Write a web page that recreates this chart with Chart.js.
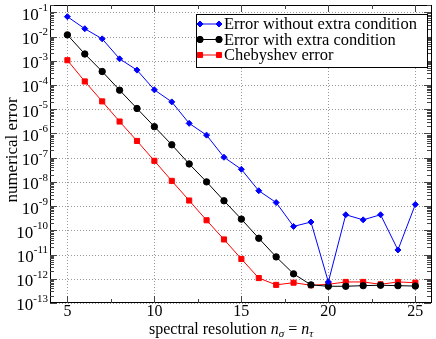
<!DOCTYPE html>
<html>
<head>
<meta charset="utf-8">
<script src="https://cdn.jsdelivr.net/npm/chart.js@4.4.0/dist/chart.umd.min.js"></script>
<style>
html, body { margin: 0; padding: 0; background: #fff; }
</style>
</head>
<body>
<canvas id="chart" width="436" height="339"></canvas>
<script>
var resolution = [5, 6, 7, 8, 9, 10, 11, 12, 13, 14, 15, 16, 17, 18, 19, 20, 21, 22, 23, 24, 25];
var errWithout = [6.6e-2, 2.1e-2, 8.0e-3, 1.2e-3, 4.1e-4, 6.3e-5, 2.0e-5, 2.6e-6, 8.5e-7, 1.04e-7, 3.3e-8,
                  4.3e-9, 1.4e-9, 1.45e-10, 2.2e-10, 7.4e-13, 4.4e-10, 2.7e-10, 4.4e-10, 1.55e-11, 1.17e-9];
var errWith = [1.17e-2, 1.9e-3, 3.6e-4, 6.1e-5, 1.07e-5, 1.9e-6, 3.4e-7, 5.5e-8, 1.0e-8, 1.66e-9, 2.9e-10,
               4.7e-11, 8.0e-12, 1.6e-12, 5.6e-13, 4.9e-13, 4.9e-13, 5.2e-13, 5.4e-13, 5.2e-13, 5.0e-13];
var errCheb = [1.05e-3, 1.4e-4, 2.1e-5, 3.1e-6, 4.9e-7, 7.4e-8, 1.1e-8, 1.7e-9, 2.6e-10, 4.2e-11, 6.6e-12,
               1.07e-12, 5.6e-13, 6.9e-13, 5.4e-13, 5.9e-13, 7.4e-13, 7.4e-13, 5.9e-13, 7.4e-13, 6.9e-13];
var seriesNames = ["Error without extra condition", "Error with extra condition", "Chebyshev error"];
var xTicks = [5, 10, 15, 20, 25];
var xMinorTicks = [7.5, 12.5, 17.5, 22.5];
var yExponents = [-13, -12, -11, -10, -9, -8, -7, -6, -5, -4, -3, -2, -1];

var serif = "'Liberation Serif', 'DejaVu Serif', serif";

function points(values) {
    return resolution.map(function (n, i) { return { x: n, y: values[i] }; });
}

function makeSet(label, values, color, style, radius) {
    return {
        label: label,
        data: points(values),
        borderColor: color,
        backgroundColor: color,
        borderWidth: 1,
        pointStyle: style,
        pointRadius: radius,
        pointBorderWidth: 1,
        tension: 0
    };
}

var frame = {
    id: 'frame',
    beforeDatasetsDraw: function (chart) {
        var ctx = chart.ctx, a = chart.chartArea;
        var xs = chart.scales.x, ys = chart.scales.y;
        ctx.save();
        ctx.strokeStyle = '#999';
        ctx.lineWidth = 1;
        ctx.setLineDash([1, 2]);
        xTicks.forEach(function (t) {
            var px = Math.round(xs.getPixelForValue(t)) + 0.5;
            ctx.beginPath(); ctx.moveTo(px, a.top); ctx.lineTo(px, a.bottom); ctx.stroke();
        });
        yExponents.forEach(function (e) {
            var py = Math.round(ys.getPixelForValue(Math.pow(10, e))) + 0.5;
            ctx.beginPath(); ctx.moveTo(a.left, py); ctx.lineTo(a.right, py); ctx.stroke();
        });
        ctx.restore();
    },
    afterDatasetsDraw: function (chart) {
        var ctx = chart.ctx, a = chart.chartArea;
        var xs = chart.scales.x, ys = chart.scales.y;
        ctx.save();
        ctx.strokeStyle = '#000';
        ctx.lineWidth = 1;
        ctx.strokeRect(Math.round(a.left) + 0.5, Math.round(a.top) + 0.5,
                       Math.round(a.right - a.left), Math.round(a.bottom - a.top) - 1);

        // inward ticks on y, both sides
        ctx.strokeStyle = '#444';
        ctx.beginPath();
        for (var e = -13; e <= -1; e++) {
            for (var m = 1; m <= 9; m++) {
                var v = m * Math.pow(10, e);
                if (v > ys.max) break;
                var py = Math.round(ys.getPixelForValue(v)) + 0.5;
                var len = m === 1 ? 7 : 4;
                ctx.moveTo(a.left, py); ctx.lineTo(a.left + len, py);
                ctx.moveTo(a.right, py); ctx.lineTo(a.right - len, py);
            }
        }
        xTicks.concat(xMinorTicks).forEach(function (t, i) {
            var px = Math.round(xs.getPixelForValue(t)) + 0.5;
            var len = i < xTicks.length ? 7 : 4;
            ctx.moveTo(px, a.bottom); ctx.lineTo(px, a.bottom - len);
            ctx.moveTo(px, a.top); ctx.lineTo(px, a.top + len);
        });
        ctx.stroke();

        // tick labels
        ctx.fillStyle = '#000';
        ctx.textBaseline = 'middle';
        yExponents.forEach(function (e) {
            var py = ys.getPixelForValue(Math.pow(10, e));
            var sup = String(e);
            ctx.font = '11px ' + serif;
            var sw = ctx.measureText(sup).width;
            var right = 48;
            ctx.textAlign = 'right';
            ctx.fillText(sup, right, py - 4);
            ctx.font = '17px ' + serif;
            ctx.fillText('10', right - sw, py + 3);
        });
        ctx.textAlign = 'center';
        ctx.font = '16px ' + serif;
        xTicks.forEach(function (t) {
            ctx.fillText(String(t), xs.getPixelForValue(t), 312);
        });

        // x title with italic n and subscripts
        var parts = [
            { t: 'spectral resolution', f: '16px ' + serif, dy: 0, gap: 4 },
            { t: 'n', f: 'italic 16px ' + serif, dy: 0, gap: 0 },
            { t: '\u03c3', f: 'italic 11px ' + serif, dy: 3, gap: 4 },
            { t: '=', f: '16px ' + serif, dy: 0, gap: 4 },
            { t: 'n', f: 'italic 16px ' + serif, dy: 0, gap: 0 },
            { t: '\u03c4', f: 'italic 11px ' + serif, dy: 3, gap: 0 }
        ];
        var x = 149;
        ctx.textAlign = 'left';
        ctx.textBaseline = 'alphabetic';
        parts.forEach(function (p) {
            ctx.font = p.f;
            ctx.fillText(p.t, x, 334 + p.dy);
            x += ctx.measureText(p.t).width + p.gap;
        });

        // y title
        ctx.save();
        ctx.translate(17, 150);
        ctx.rotate(-Math.PI / 2);
        ctx.textAlign = 'center';
        ctx.textBaseline = 'alphabetic';
        ctx.font = '17px ' + serif;
        ctx.fillText('numerical error', 0, 0);
        ctx.restore();

        // legend
        var bx = 196, by = 14, bw = 231, bh = 53;
        ctx.fillStyle = '#fff';
        ctx.fillRect(bx, by, bw, bh);
        ctx.strokeStyle = '#000';
        ctx.lineWidth = 1;
        ctx.strokeRect(bx + 0.5, by + 0.5, bw, bh);
        chart.data.datasets.forEach(function (ds, i) {
            var ly = 24 + i * 15.5;
            ctx.strokeStyle = ds.borderColor;
            ctx.lineWidth = 1;
            ctx.beginPath(); ctx.moveTo(200, ly); ctx.lineTo(219, ly); ctx.stroke();
            ctx.fillStyle = ds.backgroundColor;
            [200, 219].forEach(function (px) {
                Chart.helpers.drawPoint(ctx, {
                    pointStyle: ds.pointStyle, radius: ds.pointRadius,
                    rotation: 0, borderWidth: 1
                }, px, ly);
            });
            ctx.fillStyle = '#000';
            ctx.font = '16.5px ' + serif;
            ctx.textAlign = 'left';
            ctx.textBaseline = 'middle';
            ctx.fillText(ds.label, 224, ly + 1);
        });
        ctx.restore();
    }
};

new Chart(document.getElementById('chart'), {
    type: 'line',
    data: {
        datasets: [
            makeSet(seriesNames[0], errWithout, '#0000ff', 'rectRot', 3),
            makeSet(seriesNames[1], errWith, '#000000', 'circle', 3.2),
            makeSet(seriesNames[2], errCheb, '#ff0000', 'rect', 3.6)
        ]
    },
    options: {
        responsive: false,
        animation: false,
        devicePixelRatio: 1,
        layout: { padding: { left: 50, right: 3.5, top: 0, bottom: 36 } },
        plugins: { legend: { display: false }, tooltip: { enabled: false } },
        scales: {
            x: { type: 'linear', min: 4, max: 25.9, display: false },
            y: { type: 'logarithmic', min: 1e-13, max: 0.2, display: false }
        }
    },
    plugins: [frame]
});
</script>
</body>
</html>
